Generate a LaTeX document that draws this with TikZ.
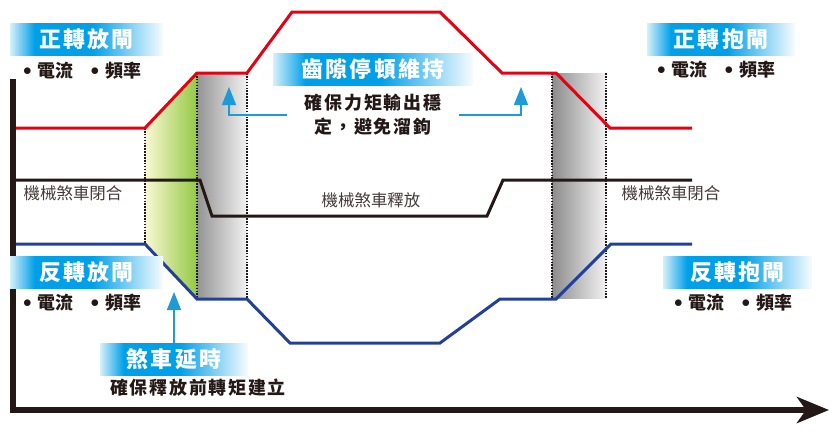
\documentclass[tikz,border=0pt]{standalone}
\usepackage{fontspec}
\newfontfamily\cjk{Noto Sans CJK TC}
\newfontfamily\cjksp[LetterSpace=10]{Noto Sans CJK TC}
\usetikzlibrary{arrows.meta}
\definecolor{fwdred}{HTML}{E60012}
\definecolor{revblue}{HTML}{22409A}
\definecolor{axisblack}{HTML}{231815}
\definecolor{tagblue}{HTML}{00A0E9}
\definecolor{tagleft}{HTML}{D6F0FB}
\definecolor{tagright}{HTML}{F8FCFE}
\definecolor{callblue}{HTML}{1E9AD6}
\definecolor{delaygreen}{HTML}{94C944}
\definecolor{delaypale}{HTML}{FAF8D2}
\pgfdeclarehorizontalshading{tagshade}{100bp}{color(0bp)=(tagleft); color(25bp)=(tagleft);
  color(33bp)=(tagblue); color(52bp)=(tagblue); color(75bp)=(tagright); color(100bp)=(tagright)}
\tikzset{
  curve/.style={line width=3bp, line join=miter},
  guide/.style={axisblack, line width=1.6bp, dash pattern=on 1.6bp off 1.3bp},
  tag/.style={shade, shading=tagshade, text=white, minimum height=32bp, inner sep=0pt,
    font=\cjksp\bfseries\fontsize{22}{22}\selectfont},
  meas/.style={text=axisblack, inner sep=0pt, font=\cjk\bfseries\fontsize{18}{18}\selectfont},
  brake/.style={text=axisblack!85, inner sep=0pt, font=\cjk\fontsize{16.5}{16.5}\selectfont},
  note/.style={text=axisblack, align=center, font=\cjksp\bfseries\fontsize{18}{24}\selectfont},
  callout/.style={callblue, line width=1.2bp, -{Triangle[length=18bp,width=14bp]}}
}
\newcommand{\dotmark}{\raisebox{2.5bp}{$\bullet$}}
\newcommand{\meastext}{\dotmark\hspace{6bp}電流\hspace{17bp}\dotmark\hspace{6bp}頻率}

\begin{document}
\begin{tikzpicture}[x=1bp,y=-1bp]
  \useasboundingbox (0,0) rectangle (836,430);

  % shaded zones
  \fill[left color=delaypale, right color=delaygreen] (145,128) -- (197,73) -- (197,298) -- (145,244) -- cycle;
  \fill[left color=black!42, right color=black!5] (197,73) rectangle (247,298);
  \fill[left color=black!45, right color=black!5] (552,73) rectangle (606,298);

  % dotted guides
  \foreach \x/\ya/\yb in {145/128/244, 197/73/298, 247/73/298, 552/73/298, 606/73/298}
    \draw[guide] (\x,\ya) -- (\x,\yb);

  % curves
  \draw[curve, fwdred] (13,128) -- (145,128) -- (197,73) -- (247,73) -- (292,12) -- (440,12)
    -- (502,73) -- (556,73) -- (610,128) -- (692,128);
  \draw[curve, axisblack] (13,180) -- (200,180) -- (212,216) -- (487,216) -- (503,180) -- (692,180);
  \draw[curve, revblue] (13,244) -- (145,244) -- (197,299) -- (247,299) -- (290,343) -- (440,343)
    -- (500,299) -- (556,299) -- (611,244) -- (692,244);

  % axes
  \draw[axisblack, line width=6.5bp, -{Stealth[length=32bp,width=26bp,inset=9bp]}] (13,79) |- (829,410);

  % labels
  \node[tag, minimum width=153bp] (fwdrel) at (86.5,39) {正轉放閘};
  \node[meas] (fwdrelm) at (82,71) {\meastext};
  \node[tag, minimum width=148bp] (fwdhold) at (721,39) {正轉抱閘};
  \node[meas] (fwdholdm) at (716,70) {\meastext};
  \node[tag, minimum width=153bp] (revrel) at (86.5,272) {反轉放閘};
  \node[meas] (revrelm) at (82,303) {\meastext};
  \node[tag, minimum width=149bp] (revhold) at (737.5,272) {反轉抱閘};
  \node[meas] (revholdm) at (733,303) {\meastext};
  \node[tag, minimum width=200bp] (backlash) at (373,69) {齒隙停頓維持};
  \node[note, inner xsep=18bp] (torque) at (373,115) {確保力矩輸出穩\\定，避免溜鉤};
  \node[tag, minimum width=148bp] (delay) at (174,359) {煞車延時};
  \node[note, inner sep=0pt] (build) at (198,388) {確保釋放前轉矩建立};
  \node[brake] (closeL) at (73,193) {機械煞車閉合};
  \node[brake] (release) at (371,200) {機械煞車釋放};
  \node[brake] (closeR) at (671,193) {機械煞車閉合};

  % callouts
  \coordinate (tipL) at (229,87);
  \coordinate (tipR) at (521,87);
  \coordinate (tipD) at (174,292);
  \draw[callout] (torque.west) -| (tipL);
  \draw[callout] (torque.east) -| (tipR);
  \draw[callout] (delay.north) -- (tipD);
\end{tikzpicture}
\end{document}
